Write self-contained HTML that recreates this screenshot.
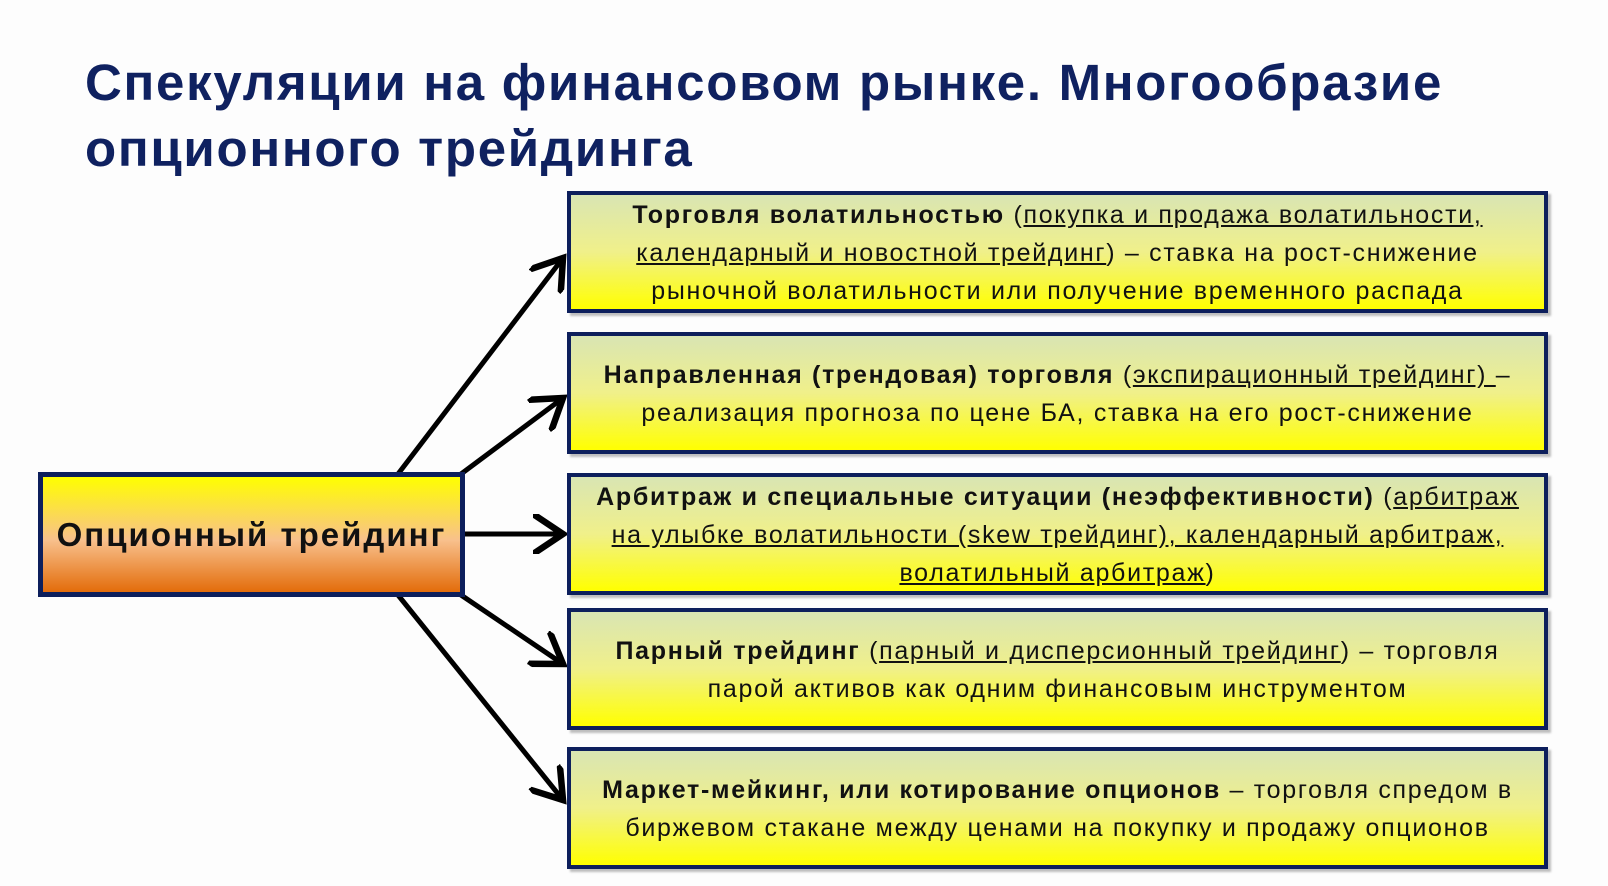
<!DOCTYPE html>
<html><head><meta charset="utf-8">
<style>
body{margin:0;width:1608px;height:886px;background:#fdfdfd;position:relative;overflow:hidden;font-family:"Liberation Sans","DejaVu Sans",sans-serif}
.t{position:absolute;left:85px;top:50px;font-size:51px;font-weight:bold;color:#0f2160;line-height:66px;letter-spacing:1.7px}
.b{position:absolute;left:567px;width:973px;border:4px solid #0d1f5c;background:linear-gradient(#d9e5b3,#f0f08a 50%,#ffff00);display:flex;align-items:center;justify-content:center;text-align:center;font-size:25px;line-height:38px;color:#111;box-shadow:3px 3px 2px rgba(0,0,0,.25);letter-spacing:1.7px;white-space:nowrap;padding-top:2px;box-sizing:content-box}
.b u{text-decoration:underline}
.l{position:absolute;left:38px;top:472px;width:417px;height:115px;border:5px solid #0d1f5c;background:linear-gradient(#ffff00,#f8c08c 55%,#e36c0a);display:flex;align-items:center;justify-content:center;font-size:33px;font-weight:bold;color:#111;letter-spacing:2px}
svg{position:absolute;left:0;top:0}
</style></head><body>
<div class="t">Спекуляции на финансовом рынке. Многообразие<br>опционного трейдинга</div>
<svg width="1608" height="886"><defs><marker id="a" markerWidth="8" markerHeight="8" refX="6" refY="4" orient="auto" markerUnits="strokeWidth"><path d="M0,0 L6,4 L0,8" fill="none" stroke="#000" stroke-width="1.3"/></marker></defs>
<g stroke="#000" stroke-width="5" fill="none" marker-end="url(#a)">
<line x1="398" y1="474" x2="563" y2="258"/>
<line x1="461" y1="474" x2="563" y2="398"/>
<line x1="461" y1="534" x2="563" y2="534"/>
<line x1="461" y1="595" x2="563" y2="664"/>
<line x1="398" y1="595" x2="563" y2="800"/>
</g></svg>
<div class="l">Опционный трейдинг</div>
<div class="b" style="top:191px;height:112px"><div><b>Торговля волатильностью</b> (<u>покупка и продажа волатильности,<br>календарный и новостной трейдинг</u>) – ставка на рост-снижение<br>рыночной волатильности или получение временного распада</div></div>
<div class="b" style="top:332px;height:112px"><div><b>Направленная (трендовая) торговля</b> (<u>экспирационный трейдинг) </u>–<br>реализация прогноза по цене БА, ставка на его рост-снижение</div></div>
<div class="b" style="top:473px;height:112px"><div><b>Арбитраж и специальные ситуации (неэффективности)</b> (<u>арбитраж<br>на улыбке волатильности (skew трейдинг), календарный арбитраж,<br>волатильный арбитраж</u>)</div></div>
<div class="b" style="top:608px;height:112px"><div><b>Парный трейдинг</b> (<u>парный и дисперсионный трейдинг</u>) – торговля<br>парой активов как одним финансовым инструментом</div></div>
<div class="b" style="top:747px;height:112px"><div><b>Маркет-мейкинг, или котирование опционов</b> – торговля спредом в<br>биржевом стакане между ценами на покупку и продажу опционов</div></div>
</body></html>
